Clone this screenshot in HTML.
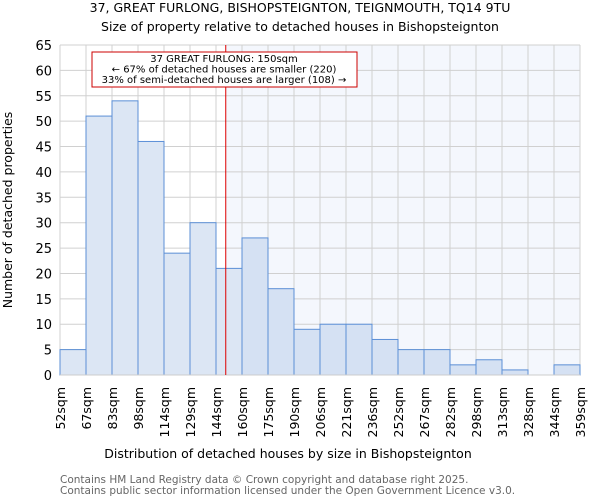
<!DOCTYPE html>
<html><head><meta charset="utf-8"><style>
body{margin:0;background:#fff;font-family:"DejaVu Sans","Liberation Sans",sans-serif;}
</style></head><body>
<svg width="600" height="500" xmlns="http://www.w3.org/2000/svg" id="chart" font-family="DejaVu Sans, Liberation Sans, sans-serif">
<text x="300" y="12" text-anchor="middle" font-size="12.5">37, GREAT FURLONG, BISHOPSTEIGNTON, TEIGNMOUTH, TQ14 9TU</text>
<text x="300" y="31" text-anchor="middle" font-size="12.5">Size of property relative to detached houses in Bishopsteignton</text>
<g id="plot"></g>
<text x="288" y="458" text-anchor="middle" font-size="12.5">Distribution of detached houses by size in Bishopsteignton</text>
<text transform="translate(12,210) rotate(-90)" text-anchor="middle" font-size="12.5">Number of detached properties</text>
<text x="60" y="483" font-size="10.5" fill="#666">Contains HM Land Registry data © Crown copyright and database right 2025.</text>
<text x="60" y="494" font-size="10.5" fill="#666">Contains public sector information licensed under the Open Government Licence v3.0.</text>
</svg>
<script>
const binLabels=["52sqm","67sqm","83sqm","98sqm","114sqm","129sqm","144sqm","160sqm","175sqm","190sqm","206sqm","221sqm","236sqm","252sqm","267sqm","282sqm","298sqm","313sqm","328sqm","344sqm","359sqm"];
const binEdges=[52,67,83,98,114,129,144,160,175,190,206,221,236,252,267,282,298,313,328,344,359];
const counts=[5,51,54,46,24,30,21,27,17,9,10,10,7,5,5,2,3,1,0,2];
const yTicks=[0,5,10,15,20,25,30,35,40,45,50,55,60,65];
const propertySize=150;
const NS="http://www.w3.org/2000/svg";
const L=60,R=580,T=45,B=375,yMax=65;
const g=document.getElementById('plot');
const nb=counts.length;
function xi(i){return L+(R-L)*i/nb;}
function xv(v){let i=0;while(i<binEdges.length-2&&v>binEdges[i+1])i++;return xi(i)+(v-binEdges[i])/(binEdges[i+1]-binEdges[i])*(xi(i+1)-xi(i));}
function y(v){return B-(B-T)*v/yMax;}
function mk(t,a){const e=document.createElementNS(NS,t);for(const k in a)e.setAttribute(k,a[k]);g.appendChild(e);return e;}
const px=xv(propertySize);
let bg=mk('rect',{x:px,y:T,width:R-px,height:B-T,fill:'#f4f7fd'});


yTicks.forEach(t=>{let l=mk('line',{x1:L,x2:R,y1:y(t),y2:y(t),stroke:'#d0d0d0','stroke-width':1});


let tx=mk('text',{x:L-8,y:y(t)+5,'text-anchor':'end','font-size':13});tx.textContent=t;

});
binLabels.forEach((s,i)=>{let l=mk('line',{x1:xi(i),x2:xi(i),y1:T,y2:B,stroke:'#d0d0d0','stroke-width':1});


let tx=mk('text',{transform:`translate(${xi(i)+5},${B+12}) rotate(-90)`,'text-anchor':'end','font-size':12.5});tx.textContent=s;

});
counts.forEach((c,i)=>{if(c<=0)return;let r=mk('rect',{x:xi(i),y:y(c),width:xi(i+1)-xi(i),height:B-y(c),fill:xi(i)>=px?'#d5e1f3':'#dce6f4',stroke:'#5b8fd6','stroke-width':1});

});
let ax=mk('line',{x1:L,x2:R,y1:B,y2:B,stroke:'#ccc'});


let rl=mk('line',{x1:px,x2:px,y1:T,y2:B,stroke:'#dd0000','stroke-width':1});


let box=mk('rect',{x:92,y:52,width:265,height:35,fill:'#fff',stroke:'#cc0000','stroke-width':1});


["37 GREAT FURLONG: 150sqm","← 67% of detached houses are smaller (220)","33% of semi-detached houses are larger (108) →"].forEach((s,i)=>{
let t=mk('text',{x:224,y:62+i*10.5,'text-anchor':'middle','font-size':10});t.textContent=s;

});
</script>
</body></html>
